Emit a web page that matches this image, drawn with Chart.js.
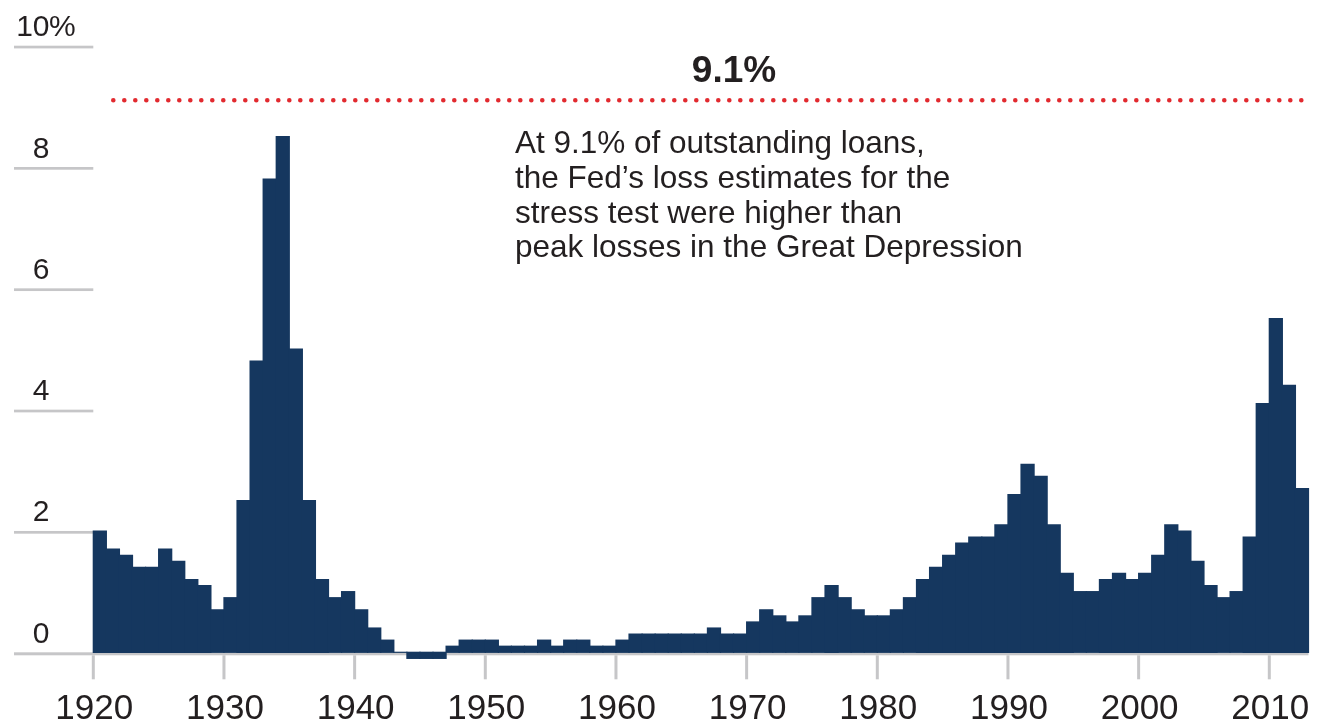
<!DOCTYPE html>
<html>
<head>
<meta charset="utf-8">
<script src="https://cdn.jsdelivr.net/npm/chart.js@4.4.1/dist/chart.umd.min.js"></script>
<style>
  html, body { margin: 0; padding: 0; background: #fff; }
  canvas { display: block; }
</style>
</head>
<body>
<canvas id="lossChart" width="1317" height="726"></canvas>
<script>
// Net loan losses as % of outstanding loans, one value per year from 1920
const FIRST_YEAR = 1920;
const lossRates = [
  2.0, 1.7, 1.6, 1.4, 1.4, 1.7, 1.5, 1.2, 1.1, 0.7,   // 1920s
  0.9, 2.5, 4.8, 7.8, 8.5, 5.0, 2.5, 1.2, 0.9, 1.0,   // 1930s
  0.7, 0.4, 0.2, 0.0, -0.1, -0.1, -0.1, 0.1, 0.2, 0.2, // 1940s
  0.2, 0.1, 0.1, 0.1, 0.2, 0.1, 0.2, 0.2, 0.1, 0.1,   // 1950s
  0.2, 0.3, 0.3, 0.3, 0.3, 0.3, 0.3, 0.4, 0.3, 0.3,   // 1960s
  0.5, 0.7, 0.6, 0.5, 0.6, 0.9, 1.1, 0.9, 0.7, 0.6,   // 1970s
  0.6, 0.7, 0.9, 1.2, 1.4, 1.6, 1.8, 1.9, 1.9, 2.1,   // 1980s
  2.6, 3.1, 2.9, 2.1, 1.3, 1.0, 1.0, 1.2, 1.3, 1.2,   // 1990s
  1.3, 1.6, 2.1, 2.0, 1.5, 1.1, 0.9, 1.0, 1.9, 4.1,   // 2000s
  5.5, 4.4, 2.7                                       // 2010s
];
const years = lossRates.map((_, i) => FIRST_YEAR + i);

const yTicks = [0, 2, 4, 6, 8, 10];
const xTicks = [1920, 1930, 1940, 1950, 1960, 1970, 1980, 1990, 2000, 2010];

const stressEstimate = 9.1;
const stressLabel = '9.1%';
const noteLines = [
  'At 9.1% of outstanding loans,',
  'the Fed\u2019s loss estimates for the',
  'stress test were higher than',
  'peak losses in the Great Depression'
];

const FONT = "'Liberation Sans', Arial, Helvetica, sans-serif";
const TEXT = '#231f20';
const GRID = '#c6c6c8';

const axesPlugin = {
  id: 'axesPlugin',
  beforeDatasetsDraw(chart) {
    const { ctx, chartArea, scales } = chart;
    const xs = scales.x, ys = scales.y;
    ctx.save();
    ctx.fillStyle = GRID;
    yTicks.forEach(v => {
      const py = ys.getPixelForValue(v);
      const end = v === 0 ? chartArea.right : chartArea.left;
      ctx.fillRect(14, py, end - 14, v === 0 ? 3 : 2.7);
    });
    const zero = ys.getPixelForValue(0);
    xTicks.forEach(yr => {
      const px = xs.getPixelForValue(yr);
      ctx.fillRect(px - 1.5, zero + 3, 3, 24);
    });

    ctx.fillStyle = TEXT;
    ctx.font = '30px ' + FONT;
    ctx.textBaseline = 'alphabetic';
    yTicks.forEach(v => {
      const py = ys.getPixelForValue(v);
      ctx.textAlign = 'right';
      ctx.fillText(String(v), 49.5, py - 9.5);
      if (v === 10) {
        ctx.textAlign = 'left';
        ctx.fillText('%', 49, py - 9.5);
      }
    });
    ctx.font = '35px ' + FONT;
    ctx.textAlign = 'center';
    xTicks.forEach(yr => {
      const px = xs.getPixelForValue(yr);
      ctx.fillText(String(yr), px + 1, zero + 66.7);
    });
    ctx.restore();
  },
  afterDatasetsDraw(chart) {
    const { ctx, chartArea, scales } = chart;
    const py = scales.y.getPixelForValue(stressEstimate);
    ctx.save();
    // dotted threshold line
    ctx.strokeStyle = '#e22a2f';
    ctx.lineWidth = 4.6;
    ctx.lineCap = 'round';
    ctx.setLineDash([0, 11]);
    ctx.beginPath();
    ctx.moveTo(chartArea.left + 20, py);
    ctx.lineTo(chartArea.right, py);
    ctx.stroke();
    ctx.setLineDash([]);

    ctx.fillStyle = TEXT;
    ctx.textBaseline = 'alphabetic';
    ctx.textAlign = 'center';
    ctx.font = 'bold 37px ' + FONT;
    ctx.fillText(stressLabel, 734, 81.7);

    ctx.textAlign = 'left';
    ctx.font = '31.5px ' + FONT;
    noteLines.forEach((line, i) => {
      ctx.fillText(line, 515, 153 + i * 34.8);
    });
    ctx.restore();
  }
};

new Chart(document.getElementById('lossChart'), {
  type: 'bar',
  data: {
    datasets: [{
      data: years.map((yr, i) => ({ x: yr + 0.5, y: lossRates[i] })),
      backgroundColor: '#15375f',
      borderWidth: 0,
      inflateAmount: 0.6,
      barPercentage: 1,
      categoryPercentage: 1,
      clip: false
    }]
  },
  options: {
    responsive: false,
    animation: false,
    devicePixelRatio: 1,
    layout: { padding: { left: 93.3, right: 8.5, top: 45.7, bottom: 73.7 } },
    plugins: { legend: { display: false }, tooltip: { enabled: false } },
    scales: {
      x: {
        type: 'linear', offset: false, display: false,
        min: FIRST_YEAR, max: FIRST_YEAR + lossRates.length
      },
      y: { min: 0, max: 10, display: false }
    }
  },
  plugins: [axesPlugin]
});
</script>
</body>
</html>
